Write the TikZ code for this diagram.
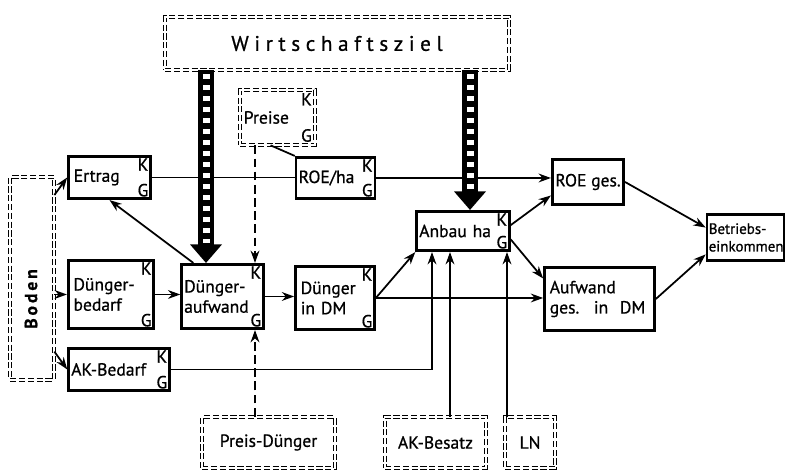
\documentclass[tikz,border=0pt]{standalone}
\usepackage{fontspec}
\setmainfont{PT Sans}[FakeBold=0.8]
\usetikzlibrary{arrows.meta,calc}

\tikzset{
  box/.style={draw, line width=1.5pt, inner xsep=3pt, inner ysep=2pt, align=left, font=\fontsize{10}{11.5}\selectfont},
  dbox/.style={draw, double, double distance=1.1pt, line width=0.7pt, dash pattern=on 3.5pt off 1.5pt, inner sep=2pt},
  kglabel/.style={inner sep=1.8pt, font=\fontsize{10}{11}\selectfont},
  kg/.style={label={[kglabel,anchor=north east]north east:K}, label={[kglabel,anchor=south east]south east:G}},
  plain/.style={line width=1pt},
  link/.style={line width=1pt, -{Stealth[length=7pt,width=5pt]}},
  dlink/.style={link, dash pattern=on 5pt off 2.5pt},
}

% thick ladder arrow from the goal box
\newcommand{\drawladder}[2]{%
  \draw[line width=0.32cm] (#1) -- ($(#2)+(0,0.30)$);
  \draw[white, line width=0.14cm, dash pattern=on 0.09cm off 0.13cm] ($(#1)+(0,-0.08)$) -- ($(#2)+(0,0.40)$);
  \fill (#2) -- ++(-0.32,0.37) -- ++(0.64,0) -- cycle;
}

\begin{document}
\begin{tikzpicture}
\useasboundingbox (0,0) rectangle (15.72,9.48);

% dashed (outside) boxes
\node[dbox, minimum width=6.87cm, minimum height=1.05cm, font=\large] (ziel) at (6.74,8.61) {W i r t s c h a f t s z i e l};
\node[dbox, kg, text width=1.35cm, minimum height=1.09cm, align=left] (preise) at (5.55,7.13) {Preise};
\node[dbox, minimum width=0.87cm, minimum height=4.05cm] (boden) at (0.64,3.91) {};
\node[rotate=90, font=\bfseries] (bodenlabel) at (0.62,3.50) {B\,o\,d\,e\,n};
\node[dbox, minimum width=2.65cm, minimum height=1.01cm] (preisd) at (5.37,0.63) {Preis-Dünger};
\node[dbox, minimum width=2.01cm, minimum height=1.01cm] (akbesatz) at (8.71,0.63) {AK-Besatz};
\node[dbox, minimum width=0.99cm, minimum height=1.01cm] (ln) at (10.60,0.63) {LN};

% model boxes
\node[box, kg, text width=1.43cm, minimum height=0.85cm] (ertrag) at (2.19,5.93) {Ertrag};
\node[box, kg, text width=1.47cm, inner xsep=1.5pt, minimum height=0.83cm] (roeha) at (6.71,5.92) {ROE/ha};
\node[box, minimum width=1.43cm, inner xsep=1pt, minimum height=0.91cm] (roeges) at (11.76,5.84) {ROE ges.};
\node[box, kg, text width=1.75cm, inner xsep=1.5pt, minimum height=0.79cm] (anbau) at (9.26,4.86) {Anbau ha};
\node[box, text width=1.47cm, inner xsep=1pt, minimum height=0.93cm, font=\fontsize{8.5}{10}\selectfont] (betrieb) at (14.91,4.73) {Betriebs-\\einkommen};
\node[box, kg, text width=1.50cm, minimum height=1.37cm] (dbedarf) at (2.22,3.59) {Dünger-\\bedarf};
\node[box, kg, text width=1.53cm, inner xsep=1.5pt, minimum height=1.29cm] (daufwand) at (4.45,3.55) {Dünger-\\aufwand};
\node[box, kg, text width=1.37cm, minimum height=1.27cm] (ddm) at (6.70,3.52) {Dünger\\in DM};
\node[box, text width=1.99cm, minimum height=1.27cm] (aufwand) at (11.99,3.50) {Aufwand\\ges.~ in~ DM};
\node[box, kg, text width=1.91cm, inner xsep=1.5pt, minimum height=0.85cm] (akbedarf) at (2.38,2.09) {AK-Bedarf};

\coordinate (xpreis) at (5.10,0);
\coordinate (xak) at (8.64,0);
\coordinate (xbes) at (9.00,0);
\coordinate (xln) at (10.14,0);
\coordinate (xlad1) at (4.12,0);
\coordinate (xlad2) at (9.40,0);

% connectors
\draw[plain] (ertrag.east) -- (ertrag.east -| roeha.west);
\draw[link] (roeha.east) -- (roeha.east -| roeges.west);
\draw[plain] (preise.-104) -- (roeha.north west);
\draw[dlink] (preise.south -| xpreis) -- (daufwand.north -| xpreis);
\draw[dlink] (preisd.north -| xpreis) -- (daufwand.south -| xpreis);
\draw[link] (daufwand.131) -- (ertrag.south);
\draw[link] (dbedarf.east) -- (dbedarf.east -| daufwand.west);
\draw[link] (daufwand.east) -- (daufwand.east -| ddm.west);
\draw[link] (ddm.east) -- (anbau.south west);
\draw[link] (ddm.east) -- (ddm.east -| aufwand.west);
\draw[link] (akbedarf.east) -| (xak |- anbau.south);
\draw[link] (akbesatz.north -| xbes) -- (anbau.south -| xbes);
\draw[link] (ln.north -| xln) -- (anbau.south -| xln);
\draw[link] (anbau.7) -- (roeges.200);
\draw[link] (anbau.-10) -- (aufwand.160);
\draw[link] (roeges.east) -- (betrieb.166);
\draw[link] (aufwand.east) -- (betrieb.203);
\draw[link] (boden.75) -- (ertrag.west);
\draw[link] (boden.east |- dbedarf.west) -- (dbedarf.west);
\draw[link] (boden.-73) -- (akbedarf.west);

\drawladder{ziel.south -| xlad1}{daufwand.north -| xlad1}
\drawladder{ziel.south -| xlad2}{anbau.north -| xlad2}
\end{tikzpicture}
\end{document}
